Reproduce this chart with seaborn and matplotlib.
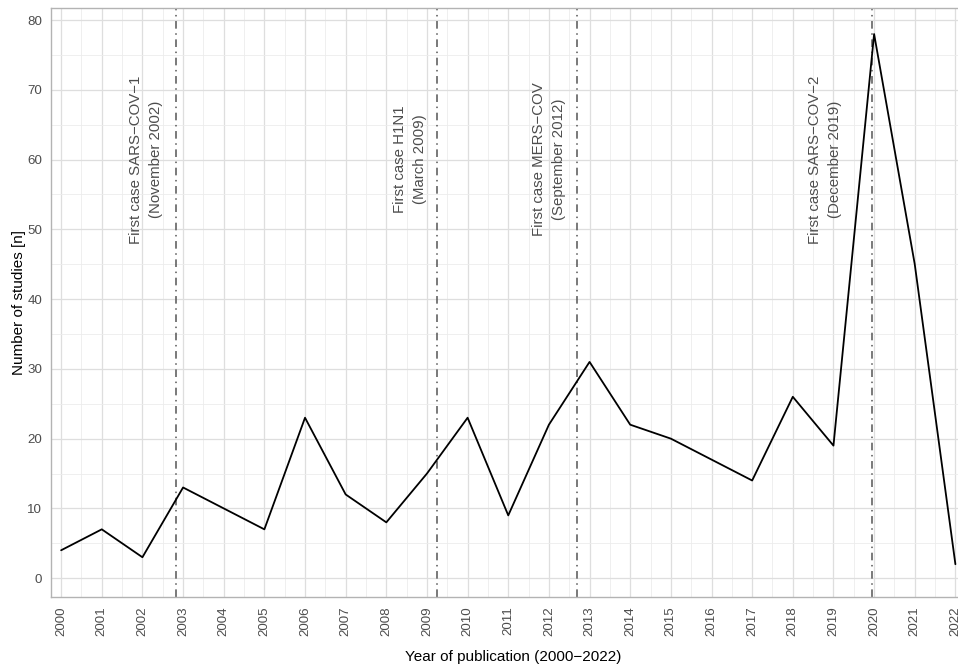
import numpy as np
import pandas as pd
import matplotlib
matplotlib.use("Agg")
import matplotlib.pyplot as plt
from matplotlib.ticker import MultipleLocator
import seaborn as sns

years = list(range(2000, 2023))
studies = [4, 7, 3, 13, 10, 7, 23, 12, 8, 15, 23, 9, 22, 31, 22, 20, 17, 14, 26, 19, 78, 45, 2]

event_dates = [2002.83, 2009.25, 2012.70, 2019.95]
event_labels = [
    "First case SARS\u2212COV\u22121\n(November 2002)",
    "First case H1N1\n(March 2009)",
    "First case MERS\u2212COV\n(September 2012)",
    "First case SARS\u2212COV\u22122\n(December 2019)",
]
label_x = [2002.09, 2008.59, 2012.0, 2018.8]
label_y = 60

df = pd.DataFrame({"year": years, "n": studies})

sns.set_theme(style="whitegrid")
plt.rcParams["font.family"] = ["Liberation Sans", "DejaVu Sans"]

fig = plt.figure(figsize=(9.58, 6.66), dpi=100)
ax = fig.add_axes([0.0532, 0.1036, 0.9653, 0.8851])

grid_col = "#dedede"
ax.xaxis.set_major_locator(MultipleLocator(1))
ax.xaxis.set_minor_locator(MultipleLocator(0.5))
ax.yaxis.set_major_locator(MultipleLocator(10))
ax.yaxis.set_minor_locator(MultipleLocator(5))
ax.grid(which="major", color=grid_col, linewidth=0.9)
ax.grid(which="minor", color="#ececec", linewidth=0.6)
ax.set_axisbelow(True)

# outbreak markers
for x in event_dates:
    ax.axvline(x, color="#555555", linewidth=1.1, linestyle=(0, (5, 3, 1, 3)), zorder=2)

sns.lineplot(data=df, x="year", y="n", color="black", linewidth=1.3, ax=ax, zorder=3)

for x, t in zip(label_x, event_labels):
    ax.text(x, label_y, t, rotation=90, ha="center", va="center",
            color="#4d4d4d", fontsize=10.8, linespacing=1.55)

ax.set_xlim(1999.75, 2022.5)
ax.set_ylim(-2.7, 81.8)
ax.set_xticks(years)
ax.set_xticklabels([str(y) for y in years], rotation=90)

for s in ax.spines.values():
    s.set_visible(True)
    s.set_color("#b3b3b3")
    s.set_linewidth(1.0)

ax.tick_params(axis="both", which="major", length=4, width=0.8, color="#b3b3b3",
               labelsize=9.6, labelcolor="#4d4d4d", pad=2.5)
ax.tick_params(which="minor", length=0)

ax.set_xlabel("Year of publication (2000\u22122022)", fontsize=11, color="black", labelpad=10)
ax.set_ylabel("Number of studies [n]", fontsize=11, color="black", labelpad=1)

fig.savefig("out.png", dpi=100)
